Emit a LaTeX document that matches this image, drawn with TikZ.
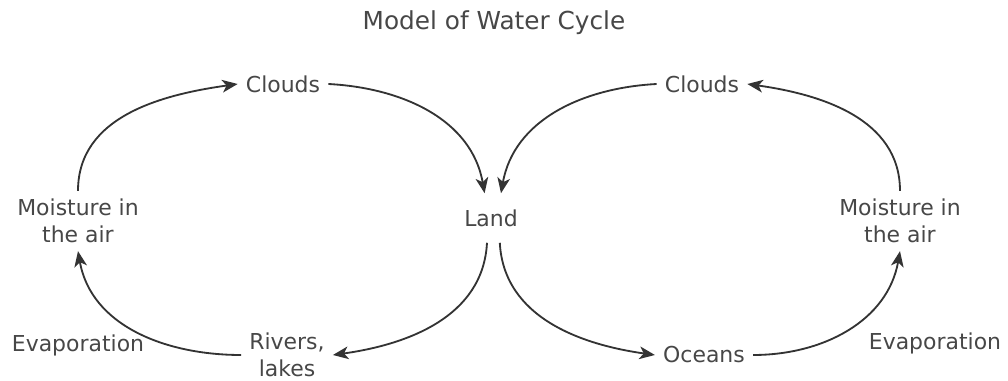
\documentclass[tikz,border=0pt]{standalone}
\usepackage{fontspec}
\setmainfont{DejaVu Sans}
\usetikzlibrary{arrows.meta, positioning}

\begin{document}
\begin{tikzpicture}[x=0.025cm, y=0.025cm]
		\tikzstyle{stage} = [text=black!72, font=\fontsize{15.6}{19}\selectfont, align=center, inner sep=0.2cm]
		\tikzstyle{flow} = [draw, black!80, line width=1.3pt, -{Stealth[length=11pt, width=9pt, inset=3pt]}]
		
		\useasboundingbox (0,0) rectangle (1008,381);
		
		\node [stage, font=\fontsize{17.6}{21}\selectfont] (title) at (494,358) {Model of Water Cycle};
		\node [stage, inner ysep=0.4cm] (land) at (491,163) {Land};
		
		% left loop
		\node [stage] (cloudsL) at (283,297) {Clouds};
		\node [stage] (moistL) at (78,160) {Moisture in\\the air};
		\node [stage] (rivers) at (287,26) {Rivers,\\lakes};
		\node [stage] (evapL) at (78,36) {Evaporation};
		
		% right loop
		\node [stage] (cloudsR) at (702,297) {Clouds};
		\node [stage] (moistR) at (900,160) {Moisture in\\the air};
		\node [stage] (oceans) at (704,26) {Oceans};
		\node [stage] (evapR) at (935,38) {Evaporation};
		
		\path [flow] (moistL.north) to[out=90, in=188] (cloudsL.west);
		\path [flow] (cloudsL.east) to[out=-3, in=100] ([xshift=-0.16cm]land.north);
		\path [flow] ([xshift=-0.1cm]land.south) to[out=-93, in=8] (rivers.east);
		\path [flow] (rivers.west) to[out=180, in=-80] (moistL.south);
		
		\path [flow] (cloudsR.west) to[out=183, in=80] ([xshift=0.25cm]land.north);
		\path [flow] ([xshift=0.22cm]land.south) to[out=-87, in=172] (oceans.west);
		\path [flow] (oceans.east) to[out=0, in=-100] (moistR.south);
		\path [flow] (moistR.north) to[out=90, in=-8] (cloudsR.east);
	\end{tikzpicture}
\end{document}
